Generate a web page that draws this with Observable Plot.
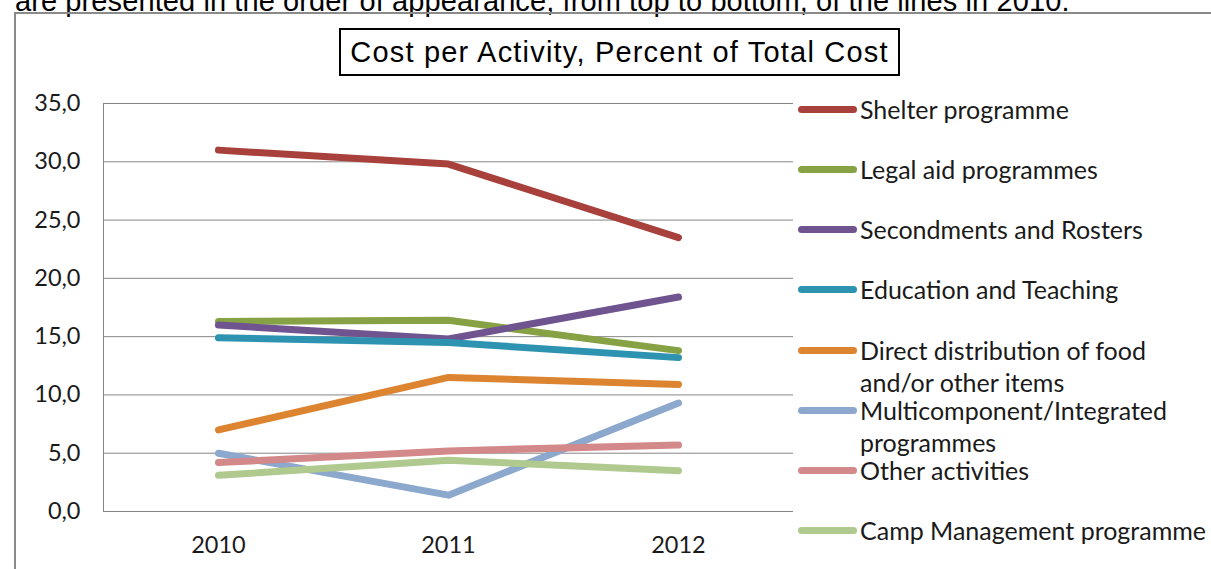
<!DOCTYPE html>
<html><head><meta charset="utf-8">
<script src="https://cdn.jsdelivr.net/npm/d3@7"></script>
<script src="https://cdn.jsdelivr.net/npm/@observablehq/plot@0.6"></script>
<style>
html,body{margin:0;padding:0;background:#fff;width:1211px;height:569px;overflow:hidden;position:relative;}
#intro{position:absolute;left:15px;top:-14px;font-family:"Liberation Sans",Arial,sans-serif;font-size:29px;line-height:30px;white-space:nowrap;color:#000;letter-spacing:0.1px;}
#frame{position:absolute;left:14px;top:12px;width:1300px;height:600px;border-left:2px solid #8a8a8a;border-top:2px solid #8a8a8a;}
#title{position:absolute;left:339px;top:28px;width:557px;height:44px;border:2px solid #000;background:#fff;font-family:"Liberation Sans",Arial,sans-serif;font-size:29px;letter-spacing:1.2px;line-height:44px;text-align:center;white-space:nowrap;color:#000;}
#chart{position:absolute;left:16px;top:39px;}
#legend{position:absolute;left:798px;top:93px;font-family:Lato,"Open Sans",sans-serif;font-size:25px;color:#1a1a1a;}
.item{height:60.15px;display:flex;align-items:flex-start;}
.sw{width:59px;height:7px;border-radius:4px;margin-top:13px;flex:none;}
.lb{line-height:32px;margin-left:3px;white-space:nowrap;}
</style></head>
<body>
<div id="intro">are presented in the order of appearance, from top to bottom, of the lines in 2010.</div>
<div id="frame"></div>
<div id="title">Cost per Activity, Percent of Total Cost</div>
<div id="chart"></div>
<div id="legend"></div>
<script>
const years = ["2010", "2011", "2012"];
const seriesNames = [
  "Shelter programme",
  "Legal aid programmes",
  "Secondments and Rosters",
  "Education and Teaching",
  "Direct distribution of food and/or other items",
  "Multicomponent/Integrated programmes",
  "Other activities",
  "Camp Management programme"
];
const legendLabels = [
  ["Shelter programme"],
  ["Legal aid programmes"],
  ["Secondments and Rosters"],
  ["Education and Teaching"],
  ["Direct distribution of food", "and/or other items"],
  ["Multicomponent/Integrated", "programmes"],
  ["Other activities"],
  ["Camp Management programme"]
];
const shelter = [31.0, 29.8, 23.5];
const legalAid = [16.3, 16.4, 13.8];
const secondments = [16.0, 14.8, 18.4];
const education = [14.9, 14.5, 13.2];
const directDistribution = [7.0, 11.5, 10.9];
const multicomponent = [5.0, 1.4, 9.3];
const otherActivities = [4.2, 5.2, 5.7];
const campManagement = [3.1, 4.4, 3.5];
const colors = ["#A8413B", "#87A244", "#6F5490", "#2E93B0", "#DD8430", "#8CA8CC", "#D38989", "#B0C98F"];
const yTicks = [0, 5, 10, 15, 20, 25, 30, 35];

const allValues = [shelter, legalAid, secondments, education, directDistribution, multicomponent, otherActivities, campManagement];
const data = [];
allValues.forEach((vals, i) => vals.forEach((v, j) => data.push({series: seriesNames[i], year: years[j], value: v})));

const fmt = d => d.toFixed(1).replace(".", ",");

const chart = Plot.plot({
  width: 1195,
  height: 530,
  marginLeft: 87,
  marginTop: 64,
  marginRight: 418,
  marginBottom: 58,
  style: {fontFamily: "Lato, 'Open Sans', sans-serif", fontSize: "23.5px", color: "#1a1a1a", background: "transparent"},
  x: {type: "point", domain: years, padding: 0.5, label: null},
  y: {domain: [0, 35], ticks: yTicks, label: null, tickFormat: fmt},
  color: {domain: seriesNames, range: colors},
  marks: [
    Plot.gridY(yTicks, {stroke: "#868686", strokeOpacity: 1, strokeWidth: 1}),
    Plot.axisY({ticks: yTicks, tickFormat: fmt, tickSize: 0, tickPadding: 23, fontSize: 23.5, label: null}),
    Plot.axisX({tickSize: 0, tickPadding: 25, fontSize: 23.5, label: null}),
    Plot.ruleY([0], {stroke: "#868686", strokeWidth: 1}),
    Plot.frame({anchor: "left", stroke: "#868686", strokeOpacity: 1}),
    Plot.line(data, {
      x: "year", y: "value", z: "series", stroke: "series",
      strokeWidth: 7, strokeLinecap: "round", strokeLinejoin: "round"
    })
  ]
});
document.getElementById("chart").appendChild(chart);

const legend = document.getElementById("legend");
legendLabels.forEach((lines, i) => {
  const it = document.createElement("div");
  it.className = "item";
  const sw = document.createElement("div");
  sw.className = "sw";
  sw.style.background = colors[i];
  const lb = document.createElement("div");
  lb.className = "lb";
  lb.innerHTML = lines.join("<br>");
  it.appendChild(sw); it.appendChild(lb);
  legend.appendChild(it);
});
</script>
</body></html>
